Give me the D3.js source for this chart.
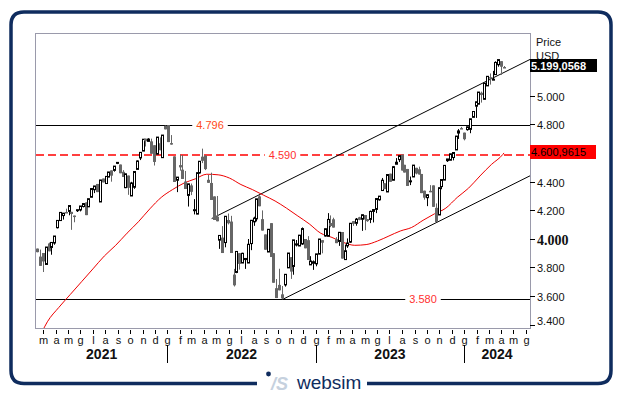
<!DOCTYPE html>
<html><head><meta charset="utf-8">
<script src="https://cdn.jsdelivr.net/npm/d3@7"></script>
<style>body{margin:0;background:#fff}svg{display:block}</style>
</head><body><svg id="c" width="625" height="395"></svg>
<script>
// ---------- data ----------
const firstWeek = "2021-02-15", lastWeek = "2024-04-08";
const open  = [3932,3876,3901,3821,3968,3940,3971,4078,4128,4163,4188,4192,4189,4163,4198,4202,4226,4255,4224,4291,4344,4384,4258,4422,4387,4432,4479,4479,4529,4520,4469,4358,4443,4300,4361,4486,4566,4614,4701,4682,4682,4655,4592,4669,4568,4791,4796,4670,4577,4410,4516,4484,4401,4304,4374,4201,4173,4461,4575,4583,4413,4391,4297,4155,3991,4009,3974,4132,4121,3750,3765,3900,3831,3855,3831,3967,4119,4140,4297,4138,4031,3908,4110,3900,3655,3678,3612,3678,3797,3872,3807,3957,3950,3964,3999,3991,3818,3829,3825,3893,3991,4020,4018,4111,4137,3997,3982,4048,3855,3951,3977,4124,4109,4151,4137,4167,4138,4136,4192,4206,4273,4338,4389,4328,4456,4410,4522,4554,4589,4518,4489,4400,4433,4497,4487,4454,4337,4288,4336,4374,4217,4167,4366,4411,4547,4550,4569,4622,4740,4775,4743,4764,4766,4850,4928,4942,5022,4976,5070,5131,5117,5149,5218,5243,5202];
const high  = [3932,3925,3901,3943,3974,3975,4020,4129,4185,4180,4211,4233,4189,4163,4204,4230,4247,4255,4281,4352,4370,4384,4412,4422,4437,4468,4479,4509,4537,4520,4481,4455,4443,4399,4471,4549,4605,4697,4701,4704,4701,4655,4712,4710,4726,4793,4796,4726,4577,4432,4589,4587,4475,4385,4387,4278,4463,4543,4631,4583,4447,4463,4297,4300,4024,4089,4158,4177,4161,3790,3912,3900,3903,3863,3999,4130,4155,4280,4305,4199,4031,4067,4110,3900,3719,3791,3670,3752,3901,3872,3993,3992,4027,4080,3999,4019,3879,3849,3895,3999,3991,4071,4180,4164,4148,4012,4046,4048,3960,4003,4109,4124,4146,4154,4169,4167,4138,4198,4205,4282,4299,4426,4389,4450,4456,4510,4565,4582,4589,4518,4489,4436,4516,4497,4505,4454,4337,4309,4376,4374,4248,4358,4415,4514,4559,4595,4604,4720,4768,4783,4743,4784,4840,4894,4959,5027,5030,5089,5137,5157,5175,5242,5254,5243,5209];
const low   = [3906,3811,3768,3821,3913,3889,3959,4073,4125,4135,4181,4165,4063,4116,4188,4192,4220,4166,4224,4291,4320,4327,4258,4395,4387,4432,4400,4470,4523,4459,4433,4355,4308,4300,4350,4486,4551,4614,4646,4682,4595,4513,4592,4620,4568,4766,4677,4659,4398,4327,4477,4419,4349,4226,4306,4171,4173,4456,4530,4481,4392,4272,4132,4123,3930,3901,3941,4101,3901,3667,3760,3785,3831,3790,3831,3921,4091,4122,4228,4058,3924,3908,3873,3693,3586,3640,3577,3666,3797,3720,3749,3947,3950,3958,3934,3852,3818,3783,3808,3893,3899,4016,4018,4082,4079,3970,3951,3862,3855,3937,3971,4091,4092,4130,4056,4061,4119,4110,4115,4180,4267,4338,4348,4328,4399,4410,4522,4537,4478,4464,4370,4376,4433,4451,4450,4320,4274,4229,4327,4224,4117,4167,4347,4411,4538,4550,4549,4622,4699,4770,4689,4757,4739,4850,4846,4942,4953,4976,5070,5079,5117,5149,5204,5147,5199];
const close = [3907,3811,3842,3943,3913,3975,4020,4129,4185,4180,4181,4233,4174,4156,4204,4230,4247,4166,4281,4352,4370,4327,4412,4395,4437,4468,4442,4509,4535,4459,4433,4455,4357,4391,4471,4545,4605,4697,4683,4698,4595,4538,4712,4620,4726,4766,4677,4663,4398,4432,4500,4419,4349,4385,4329,4204,4463,4543,4546,4488,4392,4272,4132,4123,4024,3901,4158,4109,3901,3675,3912,3825,3899,3863,3962,4130,4145,4280,4228,4058,3924,4067,3873,3693,3586,3640,3583,3752,3901,3771,3993,3965,4026,4072,3934,3852,3845,3840,3895,3999,3973,4071,4136,4090,4079,3970,4046,3862,3917,3971,4109,4105,4138,4133,4169,4136,4124,4192,4205,4282,4299,4410,4348,4450,4399,4505,4536,4582,4478,4464,4370,4406,4516,4457,4450,4320,4288,4309,4327,4224,4117,4358,4415,4514,4559,4595,4604,4719,4755,4770,4697,4784,4840,4891,4959,5027,5006,5089,5137,5124,5117,5234,5254,5204,5199.0568];
// moving average
const maDates  = ["2021-02-26","2021-03-12","2021-04-09","2021-05-07","2021-06-04","2021-07-02","2021-07-30","2021-08-27","2021-09-24","2021-10-22","2021-11-19","2021-12-17","2022-01-14","2022-02-11","2022-03-11","2022-04-08","2022-05-06","2022-06-03","2022-07-01","2022-07-29","2022-08-26","2022-09-23","2022-10-21","2022-11-18","2022-12-16","2023-01-13","2023-02-10","2023-03-10","2023-04-07","2023-05-05","2023-06-02","2023-06-30","2023-07-28","2023-08-25","2023-09-22","2023-10-20","2023-11-17","2023-12-15","2024-01-12","2024-02-09","2024-03-08","2024-04-05","2024-04-08"];
const maValues = [3345,3420,3520,3610,3700,3790,3880,3955,4040,4120,4210,4290,4345,4390,4420,4452,4448,4425,4380,4345,4305,4265,4215,4160,4105,4040,4010,3975,3955,3960,3985,4020,4055,4080,4130,4175,4215,4290,4355,4440,4520,4590,4600.9615];
const levelValues = [4796, 4590, 3580];
const levelLabels = ["4.796", "4.590", "3.580"];
const channelUpper = [["2022-04-20",4142],["2024-06-11",5255]];
const channelLower = [["2022-10-12",3577],["2024-06-11",4441]];
const yTickValues = [3400,3600,3800,4000,4200,4400,4600,4800,5000,5200];
const monthLetters = ["g","f","m","a","m","g","l","a","s","o","n","d"];
const yearLabels = ["2021","2022","2023","2024"];
const lastPrice = 5199.0568, lastMA = 4600.9615;

// ---------- setup ----------
const svg = d3.select("#c");
const P = {l:36, r:530, t:34, b:328};
const parse = d3.utcParse("%Y-%m-%d");
const x = d3.scaleUtc().domain([parse("2021-02-12"), parse("2024-06-11")]).range([P.l, P.r]);
const y = d3.scaleLinear().domain([3376.5, 5433]).range([P.b, P.t]);
const loc = d3.formatLocale({decimal:",", thousands:".", grouping:[3], currency:["","€"]});
const f0 = loc.format(",.0f"), f4 = loc.format(",.4f");
const FONT = "Arial, 'Liberation Sans', sans-serif";

// outer frame
const navy = "#0f2c5e";
svg.append("path")
  .attr("d", `M257,383.5 H24 Q11,383.5 11,370.5 V25 Q11,12 24,12 H598 Q611,12 611,25 V370.5 Q611,383.5 598,383.5 H367`)
  .attr("fill","none").attr("stroke",navy).attr("stroke-width",3.5);

// logo
const logo = svg.append("g");
logo.append("circle").attr("cx",268.5).attr("cy",374).attr("r",2.4).attr("fill",navy);
logo.append("text").attr("x",271).attr("y",390).attr("font-family",FONT).attr("font-size",18)
  .attr("font-style","italic").attr("font-weight","bold").attr("fill","#c6d1de").text("/S");
logo.append("text").attr("x",297).attr("y",389).attr("font-family",FONT).attr("font-size",19)
  .attr("fill",navy).text("websim");

const clip = svg.append("clipPath").attr("id","pc").append("rect")
  .attr("x",P.l).attr("y",P.t).attr("width",P.r-P.l).attr("height",P.b-P.t);
const plot = svg.append("g").attr("clip-path","url(#pc)");

// horizontal levels
const labelX = [210, 282.5, 423];
levelValues.forEach((v,i)=>{
  const red = i===1;
  const yy = Math.round(y(v)) + (red ? 0 : 0.5);
  plot.append("line").attr("x1",P.l).attr("x2",P.r).attr("y1",yy).attr("y2",yy)
    .attr("stroke", red ? "#ff0000" : "#000").attr("stroke-width", red ? 1.6 : 1)
    .attr("stroke-dasharray", red ? "8,4" : null);
  const t = plot.append("text").attr("x",labelX[i]).attr("y",y(v)+4).attr("text-anchor","middle")
    .attr("font-family",FONT).attr("font-size",11).attr("fill", i===0 ? "#ff4a1a" : "#ff3030").text(levelLabels[i]);
  const bb = t.node().getBBox();
  plot.insert("rect", "text:last-child").attr("x",bb.x-4).attr("y",bb.y).attr("width",bb.width+8).attr("height",bb.height).attr("fill","#fff");
});

// channel
[channelUpper, channelLower].forEach(c=>{
  plot.append("line").attr("x1",x(parse(c[0][0]))).attr("y1",y(c[0][1]))
    .attr("x2",x(parse(c[1][0]))).attr("y2",y(c[1][1])).attr("stroke","#000").attr("stroke-width",1);
});

// moving average
const ma = maDates.map((d,i)=>[parse(d), maValues[i]]);
plot.append("path").datum(ma).attr("fill","none").attr("stroke","#ee0000").attr("stroke-width",1)
  .attr("d", d3.line().x(d=>x(d[0])).y(d=>y(d[1])).curve(d3.curveMonotoneX));

// candles
const weeks = d3.utcMonday.range(parse(firstWeek), d3.utcDay.offset(parse(lastWeek),1));
const candles = weeks.map((d,i)=>({d, o:open[i], h:high[i], l:low[i], c:close[i]}));
const cg = plot.append("g");
candles.forEach(k=>{
  const cx = Math.round(x(k.d));
  const up = k.c >= k.o;
  const col = up ? "#000" : "#666";
  cg.append("line").attr("x1",cx+0.5).attr("x2",cx+0.5).attr("y1",y(k.h)).attr("y2",y(k.l)).attr("stroke",col).attr("stroke-width",1);
  const top = y(Math.max(k.o,k.c)), bot = y(Math.min(k.o,k.c));
  if (up) {
    cg.append("rect").attr("x",cx-0.5).attr("y",top).attr("width",2).attr("height",Math.max(1,bot-top))
      .attr("fill","#fff").attr("stroke","#000").attr("stroke-width",1);
  } else {
    cg.append("rect").attr("x",cx-1).attr("y",top).attr("width",3).attr("height",Math.max(1.5,bot-top)).attr("fill","#666");
  }
});

// plot frame
svg.append("rect").attr("x",P.l-0.5).attr("y",P.t-0.5).attr("width",P.r-P.l+1).attr("height",P.b-P.t+1)
  .attr("fill","none").attr("stroke","#9a9aab").attr("stroke-width",1);

// y axis
yTickValues.forEach(v=>{
  const yy = Math.round(y(v))+0.5;
  svg.append("line").attr("x1",P.r).attr("x2",P.r+5).attr("y1",yy).attr("y2",yy).attr("stroke","#000");
  const bold = v===4000;
  svg.append("text").attr("x",P.r+7).attr("y", v===3400 ? yy-0.5 : yy+4 + (bold?1:0))
    .attr("font-family", bold ? "'Liberation Serif','Times New Roman',serif" : FONT)
    .attr("font-size", bold ? 14 : 11).attr("font-weight", bold ? "bold" : "normal")
    .attr("fill","#111").text(f0(v));
});
svg.append("text").attr("x",536).attr("y",46).attr("font-family",FONT).attr("font-size",11).attr("fill","#111").text("Price");
svg.append("text").attr("x",536).attr("y",60).attr("font-family",FONT).attr("font-size",11).attr("fill","#111").text("USD");
// value boxes
svg.append("rect").attr("x",P.r).attr("y",59).attr("width",67).attr("height",13).attr("fill","#000");
svg.append("text").attr("x",P.r+1).attr("y",69.5).attr("font-family",FONT).attr("font-size",11).attr("font-weight","bold").attr("fill","#fff").text(f4(lastPrice));
svg.append("rect").attr("x",P.r).attr("y",145).attr("width",66).attr("height",14).attr("fill","#ff0000");
svg.append("text").attr("x",P.r+1).attr("y",156).attr("font-family",FONT).attr("font-size",11).attr("fill","#000").text(f4(lastMA));

// x axis months
const months = d3.utcMonth.range(d3.utcMonth.ceil(x.domain()[0]), x.domain()[1]);
months.forEach(m=>{
  const xx = Math.round(x(m))+0.5;
  svg.append("line").attr("x1",xx).attr("x2",xx).attr("y1",P.b+2).attr("y2",P.b+6).attr("stroke","#000");
  svg.append("text").attr("x",xx).attr("y",344).attr("text-anchor","middle").attr("font-family",FONT).attr("font-size",11)
    .attr("fill","#111").text(monthLetters[m.getUTCMonth()]);
});
// years
const yearStarts = [parse("2021-01-01"),parse("2022-01-01"),parse("2023-01-01"),parse("2024-01-01"),parse("2025-01-01")];
yearLabels.forEach((lab,i)=>{
  const a = Math.max(P.l, x(yearStarts[i])), b = Math.min(P.r, x(yearStarts[i+1]));
  svg.append("text").attr("x",(a+b)/2).attr("y",359).attr("text-anchor","middle").attr("font-family",FONT)
    .attr("font-size",14).attr("font-weight","bold").attr("fill","#111").text(lab);
  if (i>0) {
    const xx = Math.round(x(yearStarts[i]))+0.5;
    svg.append("line").attr("x1",xx).attr("x2",xx).attr("y1",345).attr("y2",363).attr("stroke","#000");
  }
});
</script></body></html>
